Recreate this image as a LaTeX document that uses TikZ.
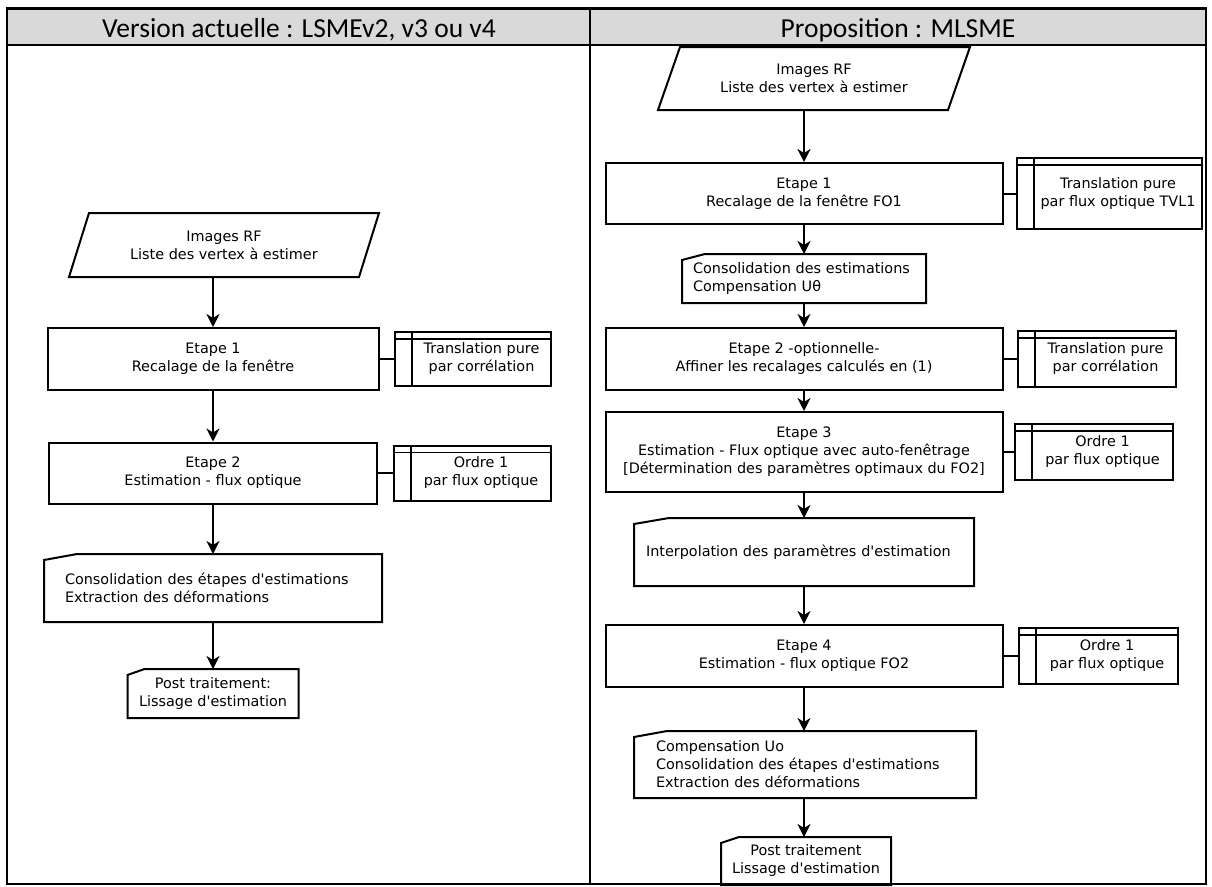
\documentclass[tikz,border=0pt]{standalone}
\usepackage{fontspec}
\setmainfont{DejaVu Sans}
\newfontfamily\headfont{Carlito}
\usetikzlibrary{arrows.meta}
\definecolor{headgray}{RGB}{217,217,217}
\newcommand\inputbox[2]{\draw ([xshift=#2]#1.north west) -- ([xshift=#2]#1.north east) -- ([xshift=-#2]#1.south east) -- ([xshift=-#2]#1.south west) -- cycle;}
\newcommand\manualbox[2]{\draw (#1.south west) -- ([yshift=-6pt]#1.north west) -- ([xshift=#2]#1.north west) -- (#1.north east) -- (#1.south east) -- cycle;}
\newcommand\sidetext[2]{\hspace*{17pt}\begin{tabular}{@{}c@{}}#1\\#2\end{tabular}}

\begin{document}
\begin{tikzpicture}[x=1pt,y=-1pt,line width=2pt,font=\fontsize{14.4}{18}\selectfont,
  blank/.style={inner sep=0pt,align=center},
  proc/.style={draw,align=center,inner sep=0pt,minimum height=62pt},
  side/.style={draw,inner sep=0pt,minimum height=56pt,
    path picture={\draw[line width=1.6pt] ([xshift=17pt]path picture bounding box.north west) -- ([xshift=17pt]path picture bounding box.south west)
      ([yshift=-7pt]path picture bounding box.north west) -- ([yshift=-7pt]path picture bounding box.north east);}},
  manual/.style={align=left,inner ysep=0pt},
  head/.style={anchor=base,font=\headfont\fontsize{27.5}{32}\selectfont},
  arr/.style={-{Stealth[length=13pt,width=13pt,inset=4pt]}}]
\useasboundingbox (0,0) rectangle (1212,886);
\fill[white] (0,0) rectangle (1212,886);
\fill[headgray] (7,8.5) rectangle (1206,45);
\node[head] (hdL) at (299,37) {Version actuelle : LSMEv2, v3 ou v4};
\node[head] (hdR) at (898,37) {Proposition : MLSME};

\node[blank,minimum width=288pt,minimum height=62pt] (inL) at (224,245) {Images RF\\Liste des vertex à estimer};
\inputbox{inL}{10pt}
\node[proc,minimum width=331pt] (e1L) at (213,359) {Etape 1\\Recalage de la fenêtre};
\node[side,minimum width=156pt,minimum height=54pt] (s1L) at (473,359) {\sidetext{Translation pure}{par corrélation}};
\node[proc,minimum width=328pt,minimum height=61pt] (e2L) at (213,473) {Etape 2\\Estimation - flux optique};
\node[side,minimum width=157pt,minimum height=55pt] (s2L) at (472.5,473) {\sidetext{Ordre 1}{par flux optique}};
\node[manual,inner xsep=20pt,text width=296pt,minimum height=66pt] (coL) at (213,588) {Consolidation des étapes d\textquotesingle estimations\\Extraction des déformations};
\manualbox{coL}{33pt}
\node[manual,align=center,minimum width=169pt,minimum height=47pt] (ptL) at (213,693.5) {Post traitement:\\Lissage d\textquotesingle estimation};
\manualbox{ptL}{17pt}
\draw[arr] (inL.south -| e1L.north) -- (e1L);
\draw[arr] (e1L) -- (e2L);
\draw[arr] (e2L) -- (coL);
\draw[arr] (coL) -- (ptL);
\draw (e1L) -- (s1L);
\draw (e2L) -- (s2L);

\node[blank,minimum width=288pt,minimum height=61pt] (inR) at (814,78.5) {Images RF\\Liste des vertex à estimer};
\inputbox{inR}{11pt}
\node[proc,minimum width=397pt,minimum height=61pt] (e1R) at (804,193.5) {Etape 1\\Recalage de la fenêtre FO1};
\node[side,minimum width=185pt,minimum height=71pt] (s1R) at (1109.5,193.5) {\sidetext{Translation pure}{par flux optique TVL1}};
\node[manual,inner xsep=10pt,text width=222pt,minimum height=47pt] (coR) at (804,278.5) {Consolidation des estimations\\Compensation Uθ};
\manualbox{coR}{23pt}
\node[proc,minimum width=397pt] (e2R) at (804,359) {Etape 2 -optionnelle-\\Affiner les recalages calculés en (1)};
\node[side,minimum width=158pt] (s2R) at (1097,359) {\sidetext{Translation pure}{par corrélation}};
\node[proc,minimum width=397pt,minimum height=80pt] (e3R) at (804,452) {Etape 3\\Estimation - Flux optique avec auto-fenêtrage\\{[}Détermination des paramètres optimaux du FO2{]}};
\node[side,minimum width=158pt] (s3R) at (1094,452) {\sidetext{Ordre 1}{par flux optique}};
\node[manual,inner xsep=11pt,text width=316pt,minimum height=66pt] (ipR) at (804,552) {Interpolation des paramètres d\textquotesingle estimation};
\manualbox{ipR}{35pt}
\node[proc,minimum width=397pt] (e4R) at (804,656) {Etape 4\\Estimation - flux optique FO2};
\node[side,minimum width=159pt] (s4R) at (1098.5,656) {\sidetext{Ordre 1}{par flux optique}};
\node[manual,inner xsep=21pt,text width=298pt,minimum height=65pt] (cpR) at (805,764.5) {Compensation Uo\\Consolidation des étapes d\textquotesingle estimations\\Extraction des déformations};
\manualbox{cpR}{33pt}
\node[manual,align=center,minimum width=168pt,minimum height=46pt] (ptR) at (806,861) {Post traitement\\Lissage d\textquotesingle estimation};
\manualbox{ptR}{18pt}
\draw[arr] (inR.south -| e1R.north) -- (e1R);
\draw[arr] (e1R) -- (coR);
\draw[arr] (coR) -- (e2R);
\draw[arr] (e2R) -- (e3R);
\draw[arr] (e3R) -- (ipR);
\draw[arr] (ipR) -- (e4R);
\draw[arr] (e4R) -- (cpR.north -| e4R.south);
\draw[arr] (cpR.south -| e4R.south) -- (ptR.north -| e4R.south);
\draw (e1R) -- (s1R);
\draw (e2R) -- (s2R);
\draw (e3R) -- (s3R);
\draw (e4R) -- (s4R);

\draw[line width=2.4pt] (7,8.5) rectangle (1206,884);
\draw[line width=2.4pt] (7,45) -- (1206,45);
\draw[line width=2.2pt] (590,8.5) -- (590,884);
\end{tikzpicture}
\end{document}
